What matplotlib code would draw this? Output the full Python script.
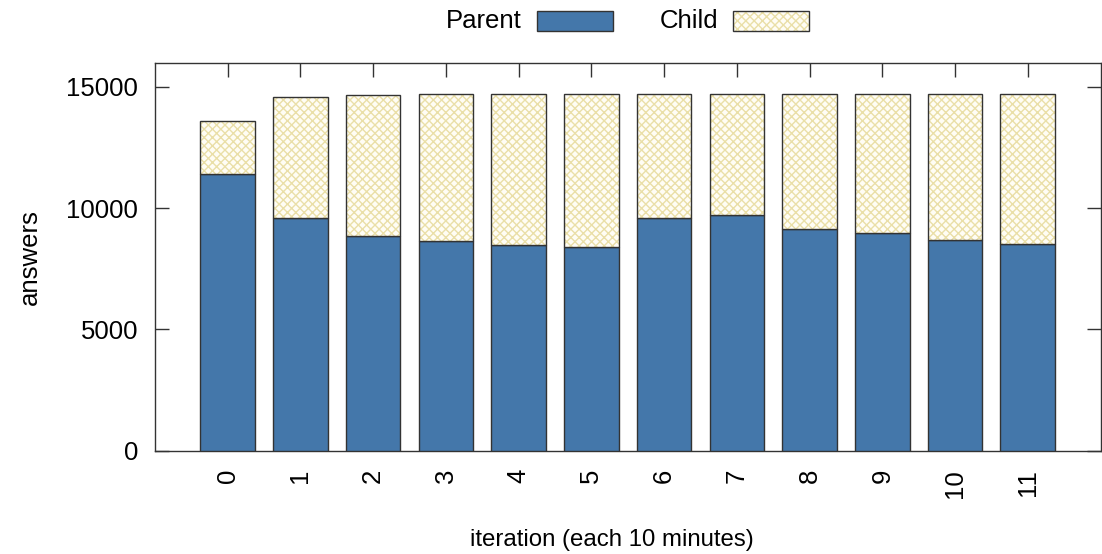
import matplotlib
matplotlib.use("Agg")
import matplotlib.pyplot as plt
from matplotlib.patches import Rectangle
import numpy as np

# data
iterations = [0, 1, 2, 3, 4, 5, 6, 7, 8, 9, 10, 11]
parent = [11410, 9580, 8840, 8650, 8470, 8390, 9600, 9710, 9150, 8980, 8700, 8520]
total = [13590, 14570, 14650, 14710, 14700, 14700, 14690, 14700, 14710, 14700, 14700, 14710]
child = [t - p for t, p in zip(total, parent)]
tick_labels = [str(i) for i in iterations]

parent_color = "#4477aa"
hatch_color = "#eadfa8"
edge_color = "#333333"
fs = 18.5

plt.rcParams['font.family'] = ['Liberation Sans', 'DejaVu Sans']
plt.rcParams['hatch.linewidth'] = 1.0
plt.rcParams['hatch.color'] = hatch_color

fig = plt.figure(figsize=(11.02, 5.54), dpi=100)
ax = fig.add_axes([155/1102, 1 - 450.7/554, (1100.5 - 155)/1102, (450.7 - 62.7)/554])

x = np.array(iterations)
w = 0.75
ax.bar(x, parent, w, color=parent_color, edgecolor=edge_color, linewidth=1.0, zorder=3)
# child: hatch layer then outline layer
ax.bar(x, child, w, bottom=parent, color="#fffdf5", edgecolor=hatch_color, hatch="xxxx",
       linewidth=0, zorder=3)
ax.bar(x, child, w, bottom=parent, color="none", edgecolor=edge_color, linewidth=1.0, zorder=4)

ax.set_xlim(-1, 12)
ax.set_ylim(0, 16000)
ax.set_yticks([0, 5000, 10000, 15000])
ax.set_xticks(x)
ax.set_xticklabels(tick_labels, rotation=90, fontsize=fs)
ax.tick_params(axis='y', direction='in', length=10, width=1, color=edge_color,
               labelsize=fs, pad=12, right=True)
ax.tick_params(axis='x', direction='in', length=10, width=1, color=edge_color,
               top=True, bottom=False, pad=13)
for s in ax.spines.values():
    s.set_color(edge_color)
    s.set_linewidth(1.0)

fig.text(612/1102, 1 - 540/554, "iteration (each 10 minutes)", ha='center', va='center', fontsize=17.3)
fig.text(30/1102, 1 - 257/554, "answers", ha='center', va='center', rotation=90, fontsize=fs)

# legend (gnuplot style: text then sample)
ly = 1 - 21/554
fig.text(522/1102, ly, "Parent", ha='right', va='center', fontsize=fs)
fig.text(718/1102, ly, "Child", ha='right', va='center', fontsize=fs)
bh = 19/554
fig.add_artist(Rectangle((537/1102, ly - bh/2), 76/1102, bh, transform=fig.transFigure,
                         facecolor=parent_color, edgecolor=edge_color, linewidth=1.0))
fig.add_artist(Rectangle((733/1102, ly - bh/2), 76/1102, bh, transform=fig.transFigure,
                         facecolor="#fffdf5", edgecolor=hatch_color, hatch="xxxx", linewidth=0))
fig.add_artist(Rectangle((733/1102, ly - bh/2), 76/1102, bh, transform=fig.transFigure,
                         facecolor="none", edgecolor=edge_color, linewidth=1.0))

fig.savefig("out.png", dpi=100)
